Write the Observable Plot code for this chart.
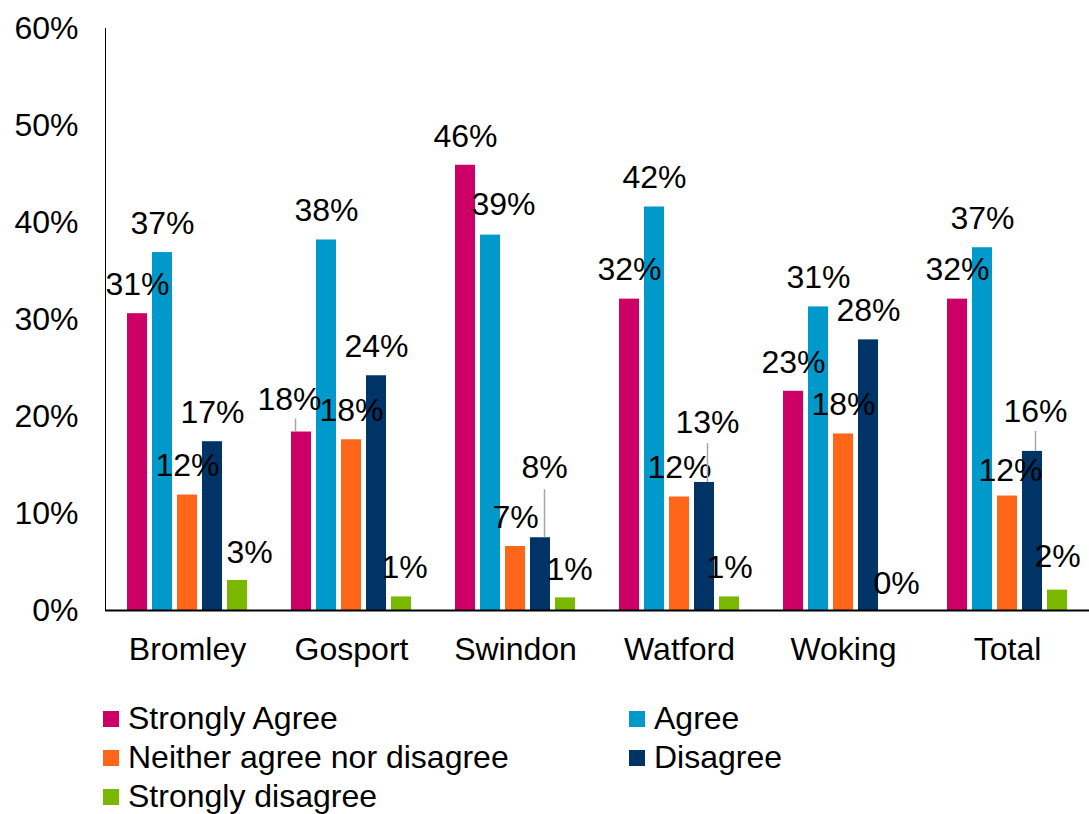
<!DOCTYPE html>
<html>
<head>
<meta charset="utf-8">
<script src="https://cdn.jsdelivr.net/npm/d3@7"></script>
<script src="https://cdn.jsdelivr.net/npm/@observablehq/plot@0.6"></script>
<style>
  body { margin: 0; background: #fff; font-family: "Liberation Sans", Arial, sans-serif; }
  #chart svg { display: block; }
  .legend { display: grid; grid-template-columns: 526px auto; padding-left: 103px; margin-top: 19px; }
  .legend .item { height: 39px; display: flex; align-items: center; font-size: 32px; color: #000; white-space: nowrap; }
  .legend .sw { width: 16px; height: 16px; margin-right: 9px; flex: none; }
</style>
</head>
<body>
<div id="chart"></div>
<div class="legend" id="legend"></div>
<script>
const cities = ["Bromley", "Gosport", "Swindon", "Watford", "Woking", "Total"];
const seriesNames = ["Strongly Agree", "Agree", "Neither agree nor disagree", "Disagree", "Strongly disagree"];
const stronglyAgree   = [30.6, 18.4, 45.9, 32.1, 22.6, 32.1];
const agree           = [36.9, 38.2, 38.7, 41.6, 31.3, 37.4];
const neither         = [11.9, 17.6, 6.6, 11.7, 18.2, 11.8];
const disagree        = [17.4, 24.2, 7.5, 13.2, 27.9, 16.4];
const stronglyDisagree = [3.1, 1.4, 1.3, 1.4, 0, 2.1];
const seriesColors = ["#CC0066", "#0099CC", "#FF6619", "#003366", "#7AB800"];
const yTicks = [0, 10, 20, 30, 40, 50, 60];

// label placement tweaks (layout only)
const labelAdjust = [
  {city: "Bromley", series: "Strongly disagree", dx: 12, dy: -28},
  {city: "Gosport", series: "Strongly Agree", dx: -12, dy: -32, leader: 13, ldx: -6},
  {city: "Gosport", series: "Strongly disagree", dx: 3, dy: -29},
  {city: "Swindon", series: "Agree", dx: 13, dy: -30},
  {city: "Swindon", series: "Disagree", dx: 4, dy: -70, leader: 48, ldx: 4},
  {city: "Swindon", series: "Strongly disagree", dx: 4, dy: -28},
  {city: "Watford", series: "Disagree", dx: 3, dy: -60, leader: 39, ldx: 3},
  {city: "Woking", series: "Strongly disagree", dx: 3, dy: -27},
  {city: "Total", series: "Neither agree nor disagree", dx: 3, dy: -25},
  {city: "Total", series: "Disagree", dx: 3, dy: -40, leader: 20, ldx: 3},
  {city: "Total", series: "Strongly disagree", dx: 0, dy: -33}
];

const seriesValues = [stronglyAgree, agree, neither, disagree, stronglyDisagree];
const data = [];
cities.forEach((c, i) => seriesNames.forEach((s, j) => data.push({city: c, series: s, value: seriesValues[j][i]})));

const key = d => d.city + "|" + d.series;
const adjMap = new Map(labelAdjust.map(a => [a.city + "|" + a.series, a]));
const fmt = d => Math.round(d.value) + "%";
const textOpts = {fx: "city", x: "series", y: "value", text: fmt, fontSize: 32, fill: "#000", lineAnchor: "middle"};

const marks = [
  Plot.barY(data, {fx: "city", x: "series", y: "value", fill: "series"}),
  Plot.frame({anchor: "left", facet: "super", stroke: "#000", strokeWidth: 1}),
  Plot.ruleY([0], {stroke: "#000", strokeWidth: 2}),
  Plot.axisY(yTicks, {tickFormat: d => d + "%", tickSize: 0, tickPadding: 27, fontSize: 32, label: null}),
  Plot.axisFx({anchor: "bottom", tickSize: 0, tickPadding: 27, fontSize: 32, label: null}),
  Plot.text(data.filter(d => !adjMap.has(key(d))), {...textOpts, dy: -29})
];
labelAdjust.forEach(a => {
  const rows = data.filter(d => key(d) === a.city + "|" + a.series);
  marks.push(Plot.text(rows, {...textOpts, dx: a.dx, dy: a.dy}));
  if (a.leader) {
    marks.push(Plot.ruleX(rows, {fx: "city", x: "series", y1: "value", y2: "value", dx: a.ldx, insetTop: -a.leader, stroke: "#A6A6A6", strokeWidth: 1.5}));
  }
});

const chart = Plot.plot({
  width: 1089,
  height: 680,
  marginTop: 28,
  marginLeft: 105,
  marginRight: 0,
  marginBottom: 70,
  style: {fontFamily: "'Liberation Sans', Arial, sans-serif", fontSize: "32px", color: "#000", background: "#fff"},
  fx: {domain: cities, padding: 0, axis: null},
  x: {domain: seriesNames, paddingInner: 0.2, paddingOuter: 0.85, axis: null},
  y: {domain: [0, 60], axis: null},
  color: {domain: seriesNames, range: seriesColors},
  marks
});
document.getElementById("chart").appendChild(chart);

const legend = document.getElementById("legend");
seriesNames.forEach((s, i) => {
  const item = document.createElement("div");
  item.className = "item";
  const sw = document.createElement("span");
  sw.className = "sw";
  sw.style.background = seriesColors[i];
  const t = document.createElement("span");
  t.textContent = s;
  item.appendChild(sw);
  item.appendChild(t);
  legend.appendChild(item);
});
</script>
</body>
</html>
